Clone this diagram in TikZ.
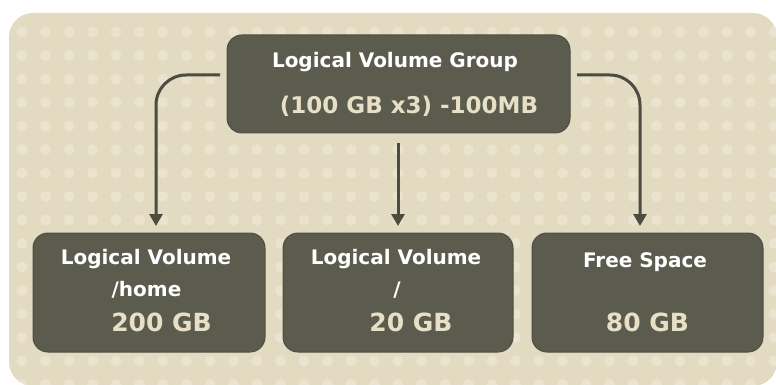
\documentclass[tikz,border=0pt]{standalone}
\usepackage{fontspec}
\setmainfont{DejaVu Sans}
\usetikzlibrary{arrows.meta}
\definecolor{bgc}{RGB}{226,219,193}
\definecolor{dotc}{RGB}{233,227,207}
\definecolor{boxc}{RGB}{92,92,78}
\definecolor{boxe}{RGB}{78,78,66}
\definecolor{linec}{RGB}{76,76,64}
\definecolor{cream}{RGB}{232,224,198}
\tikzset{
  lvbox/.style={draw=boxe, line width=1pt, fill=boxc, rounded corners=15pt},
  wtxt/.style={text=white, font=\fontsize{20}{24}\selectfont\bfseries, inner sep=0pt},
  ctxt/.style={text=cream, font=\fontsize{23}{27}\selectfont\bfseries, inner sep=0pt},
  cbig/.style={text=cream, font=\fontsize{25}{29}\selectfont\bfseries, inner sep=0pt},
  conn/.style={draw=linec, line width=3pt, rounded corners=30pt, -{Triangle[width=13pt,length=12pt]}},
}
\begin{document}
\begin{tikzpicture}[x=1pt,y=-1pt]
\useasboundingbox (0,0) rectangle (776,385);
% background
\fill[bgc, rounded corners=24pt] (9,13) rectangle (777,386);
\begin{scope}
  \clip[rounded corners=24pt] (9,13) rectangle (777,386);
  \foreach \i in {0,...,32} {
    \foreach \j in {0,...,15} {
      \fill[dotc] (22+23.5*\i, 32+23.5*\j) circle (5.5);
    }
  }
\end{scope}
% boxes
\path[lvbox] (227,35) rectangle (570,133);
\path[lvbox] (33,233) rectangle (265,352);
\path[lvbox] (283,233) rectangle (513,352);
\path[lvbox] (532,233) rectangle (763,352);
% texts
\node[wtxt] (t1) at (395,62) {Logical Volume Group};
\node[ctxt] (t2) at (409,106) {(100 GB x3) -100MB};
\node[wtxt] (a1) at (146,259) {Logical Volume};
\node[wtxt] (a2) at (146.5,290) {/home};
\node[cbig] (a3) at (161.5,322) {200 GB};
\node[wtxt] (b1) at (396,259) {Logical Volume};
\node[wtxt] (b2) at (397,290) {/};
\node[cbig] (b3) at (411,322) {20 GB};
\node[wtxt] (c1) at (645,262) {Free Space};
\node[cbig] (c3) at (647.5,322) {80 GB};
% connectors
\coordinate (ls) at (220,75);
\coordinate (le) at (156,226);
\coordinate (ms) at (398,143);
\coordinate (me) at (398,226);
\coordinate (rs) at (577,75);
\coordinate (re) at (640,226);
\draw[conn] (ls) -| (le);
\draw[conn] (ms) -- (me);
\draw[conn] (rs) -| (re);
\end{tikzpicture}
\end{document}
